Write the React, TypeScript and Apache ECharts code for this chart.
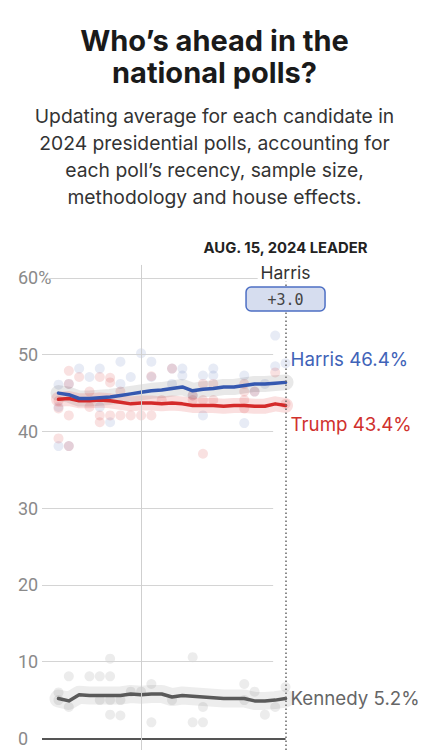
import React, { useEffect, useRef } from "react";
import * as echarts from "echarts";

// Days from Jul 24 (index 0) to Aug 15 (index 22), 2024
const dates = [
  "Jul 24", "Jul 25", "Jul 26", "Jul 27", "Jul 28", "Jul 29", "Jul 30", "Jul 31",
  "Aug 1", "Aug 2", "Aug 3", "Aug 4", "Aug 5", "Aug 6", "Aug 7", "Aug 8",
  "Aug 9", "Aug 10", "Aug 11", "Aug 12", "Aug 13", "Aug 14", "Aug 15",
];
const yTicks = [0, 10, 20, 30, 40, 50, 60];

const harrisAvg = [45.0, 44.8, 44.3, 44.3, 44.4, 44.5, 44.7, 44.9, 45.1, 45.3, 45.4, 45.6, 45.8, 45.3, 45.5, 45.6, 45.8, 45.8, 46.0, 46.2, 46.2, 46.3, 46.4];
const trumpAvg = [44.2, 44.3, 44.0, 44.0, 44.1, 44.0, 43.8, 43.6, 43.7, 43.7, 43.6, 43.7, 43.6, 43.4, 43.4, 43.4, 43.3, 43.4, 43.4, 43.3, 43.3, 43.6, 43.4];
const kennedyAvg = [5.2, 4.9, 5.7, 5.6, 5.6, 5.6, 5.6, 5.8, 5.7, 5.8, 5.8, 5.4, 5.6, 5.5, 5.4, 5.3, 5.2, 5.2, 5.2, 4.9, 4.9, 5.0, 5.2];

const harrisPolls = [
  [0, 46.1], [0, 43.2], [0, 38.1], [1, 46.2], [1, 38.1], [2, 48.2], [3, 47.1], [4, 48.2], [4, 43.2],
  [5, 41.2], [6, 49.1], [6, 46.2], [7, 47.1], [8, 50.2], [9, 49.1], [9, 47.1], [11, 48.2], [11, 46.2],
  [12, 48.2], [12, 47.3], [13, 44.7], [14, 47.3], [14, 42.1], [15, 48.2], [15, 47.3], [18, 47.3],
  [18, 41.1], [19, 45.2], [20, 46.2], [21, 52.5], [21, 48.5], [22, 48.9],
];
const trumpPolls = [
  [0, 44.0], [0, 43.0], [0, 39.1], [1, 47.9], [1, 46.2], [1, 42.1], [1, 38.1], [2, 47.1], [3, 45.2],
  [3, 43.2], [4, 47.1], [4, 42.1], [4, 41.2], [5, 47.0], [5, 46.4], [5, 42.1], [6, 45.2], [6, 42.1],
  [7, 42.1], [8, 42.1], [9, 47.2], [9, 42.1], [10, 44.1], [11, 48.2], [13, 44.7], [13, 44.1],
  [14, 46.2], [14, 44.1], [14, 37.1], [15, 46.2], [15, 44.1], [18, 46.2], [18, 45.2], [18, 44.1],
  [18, 43.0], [19, 45.2], [21, 47.7], [22, 43.6],
];
const kennedyPolls = [
  [0, 6.0], [0, 5.0], [1, 8.1], [1, 4.1], [3, 8.1], [4, 8.1], [4, 5.0], [5, 10.4], [5, 8.1], [5, 5.0],
  [5, 3.1], [6, 5.0], [6, 3.0], [7, 6.1], [8, 6.1], [9, 7.1], [9, 2.1], [11, 5.0], [13, 10.6], [13, 2.1],
  [14, 4.1], [14, 2.1], [18, 7.1], [18, 5.0], [19, 6.1], [20, 3.1], [21, 4.1], [22, 6.7],
];

const leaderName = "Harris";
const leaderMargin = "+3.0";
const leaderDateLabel = "AUG. 15, 2024 LEADER";
const markerDay = 8; // Aug 1

const titleLines = ["Who’s ahead in the", "national polls?"];
const subtitleLines = [
  "Updating average for each candidate in",
  "2024 presidential polls, accounting for",
  "each poll’s recency, sample size,",
  "methodology and house effects.",
];

const FONT = "Inter, 'Noto Sans', sans-serif";
const BLUE = "#3558b0";
const RED = "#d42a2a";
const GRAY = "#5a5a5a";

export default function App() {
  const ref = useRef<HTMLDivElement>(null);

  useEffect(() => {
    const chart = echarts.init(ref.current!, null, { renderer: "svg" });
    const lastIdx = dates.length - 1;
    const xMin = -1.6;
    const gridEnd = 20.8;

    const toPts = (arr: number[]) => arr.map((v, i) => [i, v]);

    const markData: any[] = [];
    yTicks.forEach((v) => {
      if (v === 0) {
        markData.push([
          { coord: [xMin, 0], lineStyle: { color: "#555", width: 2, type: "solid" } },
          { coord: [lastIdx, 0] },
        ]);
      } else {
        markData.push([
          { coord: [v === 60 ? -1.1 : xMin, v], lineStyle: { color: "#d4d4d4", width: 1, type: "solid" } },
          { coord: [v === 60 ? 19.3 : gridEnd, v] },
        ]);
      }
    });
    markData.push([
      { coord: [markerDay, -1.5], lineStyle: { color: "#cfcfcf", width: 1, type: "solid" } },
      { coord: [markerDay, 61.7] },
    ]);
    markData.push([
      { coord: [lastIdx, -1.5], lineStyle: { color: "#666", width: 1.5, type: [1.5, 2.5] } },
      { coord: [lastIdx, 59.5] },
    ]);

    const band = (data: number[], color: string, width: number) => ({
      type: "line",
      data: toPts(data),
      symbol: "none",
      clip: false,
      silent: true,
      lineStyle: { color, width, cap: "round", join: "round" },
    });
    const dots = (data: number[][], color: string) => ({
      type: "scatter",
      data,
      symbolSize: 10,
      clip: false,
      silent: true,
      itemStyle: { color },
    });
    const main = (name: string, data: number[], color: string, labelColor: string, offset: number[]) => ({
      type: "line",
      name,
      data: toPts(data),
      symbol: "none",
      clip: false,
      silent: true,
      lineStyle: { color, width: 3.5, cap: "round", join: "round" },
      endLabel: {
        show: true,
        formatter: () => `${name} ${data[data.length - 1].toFixed(1)}%`,
        color: labelColor,
        fontSize: 18.7,
        fontFamily: FONT,
        distance: 5,
        offset,
      },
    });

    chart.setOption({
      animation: false,
      backgroundColor: "#fff",
      grid: { left: 42, right: 138.3, top: 262.65, bottom: 0, containLabel: false, outerBoundsMode: "none" },
      xAxis: { type: "value", min: xMin, max: 22.5, show: false },
      yAxis: {
        type: "value",
        min: -1.5,
        max: 62,
        axisLine: { show: false },
        axisTick: { show: false },
        splitLine: { show: false },
        axisLabel: {
          customValues: yTicks,
          formatter: (v: number) => (v === 60 ? "60%" : String(v)),
          align: "left",
          margin: 24,
          color: "#8a8a8a",
          fontSize: 18,
          fontFamily: "'Liberation Sans Narrow', 'Roboto', sans-serif",
        },
      },
      series: [
        {
          type: "line",
          data: [],
          silent: true,
          markLine: { silent: true, symbol: ["none", "none"], label: { show: false }, data: markData, animation: false },
        },
        dots(kennedyPolls, "rgba(80,80,80,0.13)"),
        dots(harrisPolls, "rgba(60,90,170,0.15)"),
        dots(trumpPolls, "rgba(210,40,40,0.17)"),
        band(kennedyAvg, "rgba(0,0,0,0.07)", 18),
        band(harrisAvg, "rgba(0,0,0,0.09)", 16),
        band(trumpAvg, "rgba(220,40,40,0.15)", 15),
        main("Kennedy", kennedyAvg, GRAY, "#666", [0, 0]),
        main("Trump", trumpAvg, RED, "#d0312d", [0, 19]),
        main("Harris", harrisAvg, BLUE, "#3f63b8", [0, -23]),
      ],
    });

    const px = (chart.convertToPixel({ gridIndex: 0 }, [lastIdx, 0]) as number[])[0];
    const graphics: any[] = [];
    titleLines.forEach((t, i) => {
      graphics.push({
        type: "text",
        x: 214.5,
        y: 40 + i * 32,
        style: { text: t, font: `bold 29px ${FONT}`, fill: "#1a1a1a", textAlign: "center", textVerticalAlign: "middle" },
      });
    });
    subtitleLines.forEach((t, i) => {
      graphics.push({
        type: "text",
        x: 214.5,
        y: 116 + i * 27,
        style: { text: t, font: `19.3px ${FONT}`, fill: "#333", textAlign: "center", textVerticalAlign: "middle" },
      });
    });
    graphics.push({
      type: "text",
      x: px,
      y: 248,
      style: { text: leaderDateLabel, font: `bold 14.8px ${FONT}`, fill: "#222", textAlign: "center", textVerticalAlign: "middle" },
    });
    graphics.push({
      type: "text",
      x: px,
      y: 272,
      style: { text: leaderName, font: `17.5px ${FONT}`, fill: "#333", textAlign: "center", textVerticalAlign: "middle" },
    });
    graphics.push({
      type: "rect",
      shape: { x: px - 39.5, y: 287, width: 79, height: 24, r: 5 },
      style: { fill: "#d6ddef", stroke: "#4d6fc4", lineWidth: 1.5 },
      z: 10,
    });
    graphics.push({
      type: "text",
      x: px,
      y: 299.5,
      z: 11,
      style: { text: leaderMargin, font: `15px 'DejaVu Sans Mono', monospace`, fill: "#444", textAlign: "center", textVerticalAlign: "middle" },
    });
    chart.setOption({ graphic: graphics });

    return () => chart.dispose();
  }, []);

  return <div ref={ref} style={{ position: "absolute", left: 0, top: 0, width: 429, height: 750 }} />;
}
